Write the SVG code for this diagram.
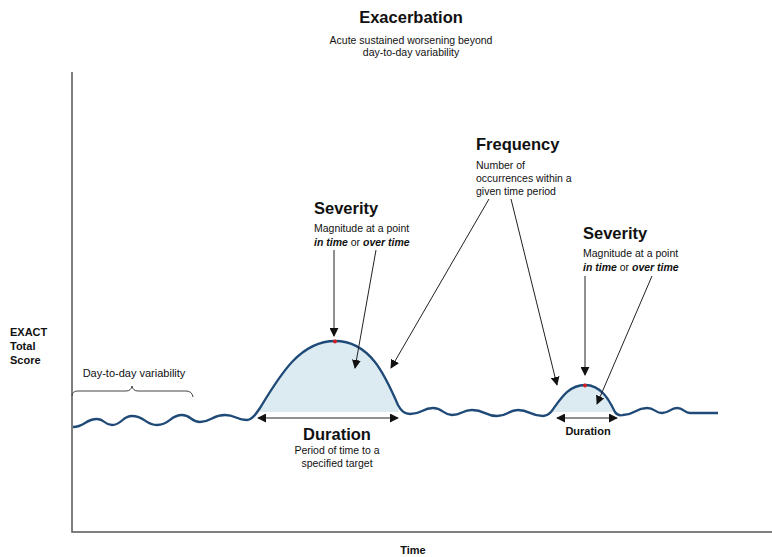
<svg xmlns="http://www.w3.org/2000/svg" width="772" height="557" viewBox="0 0 772 557">
<style>
text{font-family:"Liberation Sans",Arial,sans-serif;fill:#111}
.h{font-weight:bold;font-size:16.5px}
.s{font-size:10.5px}
.b{font-weight:bold;font-size:11px}
.ptr{stroke:#222;stroke-width:1;fill:none}
.wave{stroke:#1f4a78;stroke-width:2.3;fill:none;stroke-linejoin:round}
.fill{fill:#dbebf1;stroke:none}
</style>
<defs>
<marker id="ah" viewBox="0 0 10 10" refX="9" refY="5" markerWidth="9" markerHeight="9" markerUnits="userSpaceOnUse" orient="auto-start-reverse">
<path d="M0,0 L10,5 L0,10 Z" fill="#111"/>
</marker>
</defs>
<rect width="772" height="557" fill="#fff"/>
<g id="axes">
<path d="M72,72 L72,532 L772,532" stroke="#555" stroke-width="1.5" fill="none"/>
</g>
<g id="title">
<text class="h" x="411" y="23" text-anchor="middle">Exacerbation</text>
<text class="s" x="411" y="44" text-anchor="middle">Acute sustained worsening beyond</text>
<text class="s" x="411" y="56" text-anchor="middle">day-to-day variability</text>
</g>
<g id="ylabel">
<text class="b" x="10" y="336">EXACT</text>
<text class="b" x="10" y="350">Total</text>
<text class="b" x="10" y="364">Score</text>
</g>
<g id="xlabel">
<text class="b" x="413" y="554" text-anchor="middle">Time</text>
</g>
<g id="fills">
<path class="fill" d="M260,412 L260,408 C280,375 300,341 335,341 C370,341 385,375 398,405 L399,412 Z"/>
<path class="fill" d="M551,412 C560,400 568,385 585,385 C602,385 610,402 615,412 Z"/>
</g>
<g id="curve">
<path class="wave" d="M73,427 C85,427 85,419 97,419 C105,419 104,425 112,425 C122,425 122,416 132,416 C145,416 145,425 157,425 C170,425 170,415 182,415 C191,415 191,422 200,422 C212,422 212,415 225,415 C236,415 236,420 247,420 C252,420 256,414 260,408 C280,375 300,341 335,341 C370,341 385,375 398,405 C401,411 404,414 410,414 C422,414 422,408 433,408 C443,408 443,415 452,415 C462,415 462,410 472,410 C485,410 485,416 497,416 C508,416 508,410 518,410 C530,410 530,416 543,416 C547,416 549,414 551,412 C560,400 568,385 585,385 C602,385 610,402 615,412 C617,415 619,416 623,415 C635,415 635,408 647,408 C655,408 655,413 662,413 C670,413 670,408 677,408 C684,408 684,413 690,413 L718,413"/>
<circle cx="335" cy="341.5" r="2" fill="#d42020"/>
<circle cx="585" cy="385.5" r="2" fill="#d42020"/>
</g>
<g id="variability">
<path d="M72,396 Q72,391 78,391 L126,391 Q131,391 132,386 Q133,391 138,391 L186,391 Q192,391 193,397" stroke="#444" stroke-width="1" fill="none"/>
<text x="134" y="377" text-anchor="middle" style="font-size:11px">Day-to-day variability</text>
</g>
<g id="severity1">
<text class="h" x="314" y="214">Severity</text>
<text class="s" x="314" y="232">Magnitude at a point</text>
<text class="s" x="314" y="246" style="font-weight:bold;font-style:italic">in time <tspan style="font-weight:normal;font-style:normal">or</tspan> over time</text>
</g>
<g id="frequency">
<text class="h" x="476" y="150">Frequency</text>
<text class="s" x="476" y="169">Number of</text>
<text class="s" x="476" y="182">occurrences within a</text>
<text class="s" x="476" y="195">given time period</text>
</g>
<g id="severity2">
<text class="h" x="583" y="239">Severity</text>
<text class="s" x="583" y="257">Magnitude at a point</text>
<text class="s" x="583" y="271" style="font-weight:bold;font-style:italic">in time <tspan style="font-weight:normal;font-style:normal">or</tspan> over time</text>
</g>
<g id="duration1">
<text class="h" x="337" y="440" text-anchor="middle">Duration</text>
<text class="s" x="337" y="454" text-anchor="middle">Period of time to a</text>
<text class="s" x="337" y="467" text-anchor="middle">specified target</text>
</g>
<g id="duration2">
<text class="b" x="588" y="435" text-anchor="middle">Duration</text>
</g>
<g id="connectors">
<line class="ptr" x1="334" y1="250" x2="334" y2="336" marker-end="url(#ah)"/>
<line class="ptr" x1="376" y1="250" x2="355" y2="368" marker-end="url(#ah)"/>
<line class="ptr" x1="489" y1="199" x2="391" y2="368" marker-end="url(#ah)"/>
<line class="ptr" x1="511" y1="199" x2="557" y2="385" marker-end="url(#ah)"/>
<line class="ptr" x1="585" y1="276" x2="585" y2="375" marker-end="url(#ah)"/>
<line class="ptr" x1="652" y1="276" x2="597" y2="404" marker-end="url(#ah)"/>
<line class="ptr" x1="258" y1="418" x2="398" y2="418" marker-start="url(#ah)" marker-end="url(#ah)"/>
<line class="ptr" x1="557" y1="418" x2="617" y2="418" marker-start="url(#ah)" marker-end="url(#ah)"/>
</g>
</svg>
